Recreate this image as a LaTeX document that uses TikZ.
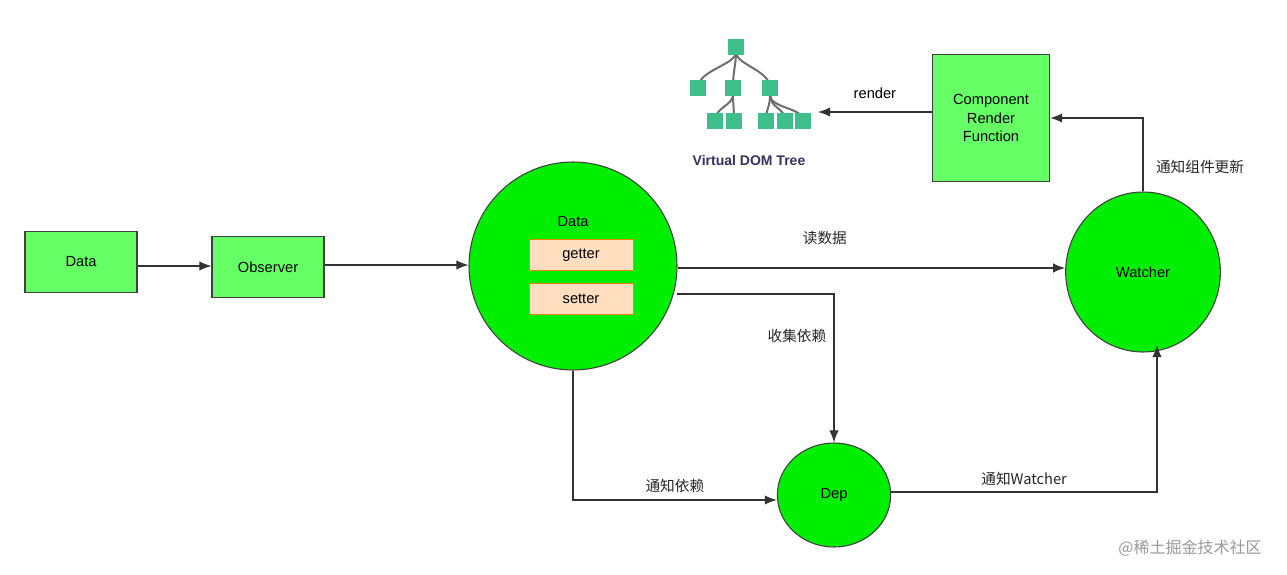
\documentclass[tikz,border=0pt]{standalone}
\usepackage{fontspec}
\setmainfont{Liberation Sans}
\newfontfamily\cjk{Noto Sans CJK SC}
\usetikzlibrary{arrows.meta,shapes.geometric}
\definecolor{boxg}{HTML}{66FF66}
\definecolor{circg}{HTML}{00EE00}
\definecolor{cube}{HTML}{3DBE8A}
\definecolor{cubeline}{HTML}{6E6E6E}
\begin{document}
\begin{tikzpicture}[x=0.75pt,y=-0.75pt,
  box/.style={draw=black!75,fill=boxg,line width=0.8pt,align=center,font=\fontsize{11}{14}\selectfont},
  gs/.style={draw=orange!80!brown,fill=orange!25,minimum width=78pt,minimum height=23pt,inner sep=0,font=\fontsize{11}{13}\selectfont},
  arr/.style={draw=black!80,line width=0.9pt,-{Latex[length=9pt,width=7pt]}},
  lab/.style={font=\cjk\fontsize{11}{13}\selectfont,text=black!85},
  cb/.style={fill=cube,draw=none,minimum size=12pt,inner sep=0}]
\useasboundingbox (0,0) rectangle (1287,574);
\node[box,minimum width=84pt,minimum height=46pt] (data) at (81,262) {Data};
\node[box,minimum width=84pt,minimum height=46pt] (obs) at (268,267) {Observer};
\node[circle,draw=black!75,fill=circg,line width=0.8pt,minimum size=156pt] (big) at (573,266) {};
\node[font=\fontsize{11}{13}\selectfont] (dl) at (573,222) {Data};
\node[gs] (get) at (581,255) {getter};
\node[gs] (set) at (581,299) {setter};
\node[draw=black!75,fill=circg,line width=0.8pt,ellipse,minimum width=116pt,minimum height=120pt,font=\fontsize{11}{13}\selectfont] (wat) at (1143,272) {Watcher};
\node[draw=black!75,fill=circg,line width=0.8pt,ellipse,minimum width=85pt,minimum height=78pt,font=\fontsize{11}{13}\selectfont] (dep) at (834,495) {Dep};
\node[box,minimum width=88pt,minimum height=95pt] (comp) at (991,118) {Component\\Render\\Function};
% tree icon
\begin{scope}[line width=1.5pt,draw=cubeline]
\foreach \a/\b in {736/698,736/733,736/770}{\draw (\a,52) .. controls (\a,65) and (\b,70) .. (\b,88);}
\foreach \b in {715,734}{\draw (733,95) .. controls (733,105) and (\b,108) .. (\b,120);}
\foreach \b in {766,785,803}{\draw (770,95) .. controls (770,108) and (\b,108) .. (\b,120);}
\end{scope}
\node[cb] (t0) at (736,47) {};
\node[cb] (t1) at (698,88) {};
\node[cb] (t2) at (733,88) {};
\node[cb] (t3) at (770,88) {};
\foreach \x/\n in {715/a,734/b,766/c,785/d,803/e}{\node[cb] (l\n) at (\x,121) {};}
\node[font=\bfseries\fontsize{10.5}{12}\selectfont,text=black!70!blue!60!gray] (vdt) at (749,160) {Virtual DOM Tree};
\coordinate (tr) at (818,112);
% arrows
\draw[arr] (data.east|-0,266) -- (obs.west|-0,266);
\draw[arr] (obs.east|-0,265) -- (big.west|-0,265);
\draw[arr] (big.east|-0,268) -- (wat.west|-0,268) node[lab,pos=0.38,above=14pt] {读数据};
\draw[arr] (677,294) -| (dep.north) node[lab,pos=0.64,left=2pt] {收集依赖};
\draw[arr] (big.south) |- (dep.west|-0,500) node[lab,pos=0.75,above=2pt] {通知依赖};
\draw[arr] (dep.east|-0,492) -| (1157,345) node[lab,pos=0.25,above=1pt] {通知Watcher};
\draw[arr] (wat.north) |- (comp.east|-0,118) node[lab,pos=0.17,right=6pt] {通知组件更新};
\draw[arr] (comp.west|-0,112) -- (tr) node[midway,above=6pt,font=\fontsize{11}{13}\selectfont] {render};
\node[font=\cjk\fontsize{12}{14}\selectfont,text=black!40] (wm) at (1190,548) {@稀土掘金技术社区};
\end{tikzpicture}
\end{document}
